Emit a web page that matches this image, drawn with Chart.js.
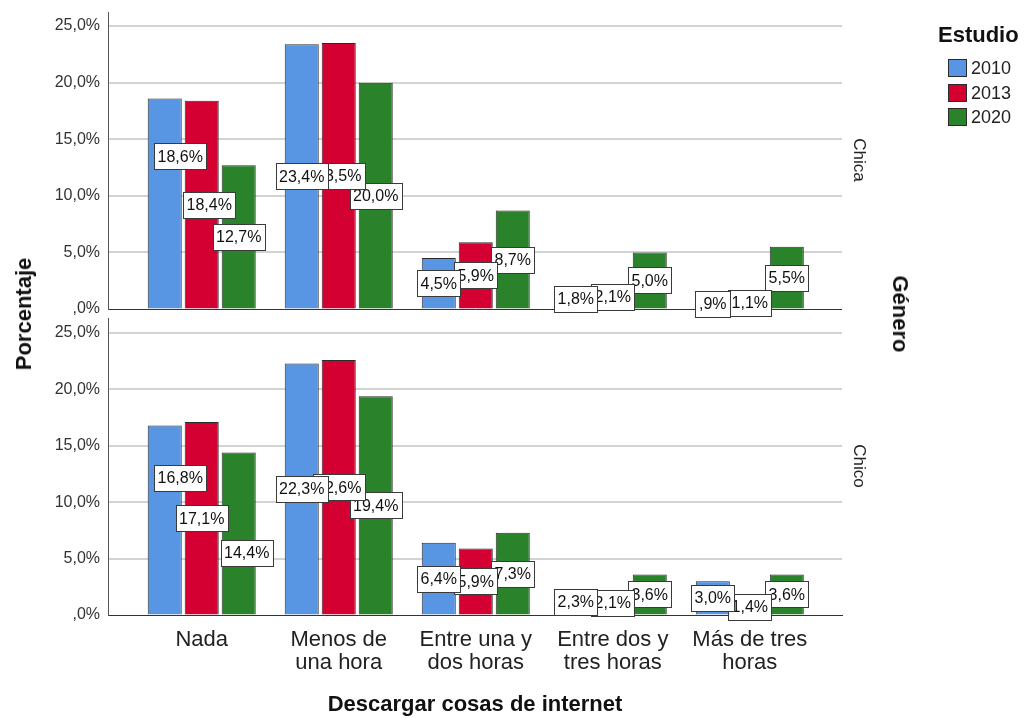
<!DOCTYPE html>
<html lang="es">
<head>
<meta charset="utf-8">
<title>Descargar cosas de internet</title>
<script src="https://cdn.jsdelivr.net/npm/chart.js@4.4.1/dist/chart.umd.min.js"></script>
<style>
  html, body { margin: 0; padding: 0; background: #fff; overflow: hidden; }
  #wrap { position: relative; width: 1027px; height: 718px; font-family: 'Liberation Sans', Arial, sans-serif; }
  canvas { position: absolute; left: 0; }
  .txt { position: absolute; white-space: nowrap; line-height: 1; color: #222; }
  .bold { font-weight: bold; color: #111; }
  .swatch { position: absolute; width: 17px; height: 16px; border: 1px solid #2b2b2b; }
</style>
</head>
<body>
<div id="wrap">
  <canvas id="chica" width="1027" height="318" style="top:0"></canvas>
  <canvas id="chico" width="1027" height="400" style="top:318px"></canvas>
</div>
<script>
// categories on the x axis ("\n" marks the line break under the bars)
const categories = ['Nada', 'Menos de\nuna hora', 'Entre una y\ndos horas', 'Entre dos y\ntres horas', 'Más de tres\nhoras'];
const years = ['2010', '2013', '2020'];
const panels = ['Chica', 'Chico'];

// percentages per study year, one array per gender panel
const chica2010 = [18.6, 23.4, 4.5, 1.8, 0.9];
const chica2013 = [18.4, 23.5, 5.9, 2.1, 1.1];
const chica2020 = [12.7, 20.0, 8.7, 5.0, 5.5];
const chico2010 = [16.8, 22.3, 6.4, 2.3, 3.0];
const chico2013 = [17.1, 22.6, 5.9, 2.1, 1.4];
const chico2020 = [14.4, 19.4, 7.3, 3.6, 3.6];

const yTicks = [0, 5, 10, 15, 20, 25];

const FONT = "'Liberation Sans', Arial, sans-serif";
const colors = ['#5895e3', '#d50032', '#2a822a'];

// label boxes that get pushed aside so they don't sit on each other (dataset-index keys, px)
const chicaNudges = { '0-0': [15.5, -47], '1-0': [7.5, 0] };
const chicoNudges = { '0-0': [15.5, -42], '2-0': [8, 19] };

// 18.6 -> "18,6%", 0.9 -> ",9%"
const pct = v => v.toFixed(1).replace('.', ',').replace(/^0/, '') + '%';

function buildDatasets(series) {
  return series.map((vals, i) => ({
    label: years[i],
    data: vals.map((v, k) => ({ x: k, y: v })),
    backgroundColor: colors[i],
    borderColor: '#2b2b2b',
    borderWidth: 1,
    categoryPercentage: 0.81,
    barPercentage: 0.92
  }));
}

function valueLabels(nudges) {
  return {
    id: 'valueLabels',
    afterDatasetsDraw(chart) {
      const ctx = chart.ctx;
      ctx.save();
      ctx.font = '16px ' + FONT;
      ctx.textAlign = 'center';
      ctx.textBaseline = 'middle';
      // green first, blue last, so earlier years sit on top
      for (let d = chart.data.datasets.length - 1; d >= 0; d--) {
        const meta = chart.getDatasetMeta(d);
        meta.data.forEach((bar, k) => {
          const text = pct(chart.data.datasets[d].data[k].y);
          const n = nudges[d + '-' + k] || [0, 0];
          const cx = bar.x + n[0];
          const cy = (bar.y + bar.base) / 2 + n[1];
          const w = Math.round(ctx.measureText(text).width + 7);
          const h = 26;
          const x0 = Math.round(cx - w / 2) + 0.5;
          const y0 = Math.round(cy - h / 2) + 0.5;
          ctx.fillStyle = '#fff';
          ctx.fillRect(x0, y0, w, h);
          ctx.strokeStyle = '#3a3a3a';
          ctx.lineWidth = 1;
          ctx.strokeRect(x0, y0, w, h);
          ctx.fillStyle = '#111';
          ctx.fillText(text, cx, cy + 1);
        });
      }
      ctx.restore();
    }
  };
}

function yScale(max) {
  return {
    min: 0,
    max: max,
    stacked: false,
    afterBuildTicks: s => { s.ticks = yTicks.map(v => ({ value: v })); },
    afterFit: s => { s.width = 108; s.paddingTop = 0; s.paddingBottom = 0; },
    grid: {
      color: c => (c.tick && c.tick.value === 0 ? '#333' : '#d3d3d3'),
      lineWidth: c => (c.tick && c.tick.value === 0 ? 1 : 2),
      drawTicks: false
    },
    border: { color: '#555', width: 1 },
    ticks: { padding: 8, color: '#333', font: { size: 16, family: FONT }, callback: v => pct(v) }
  };
}

function xScale(show) {
  return {
    type: 'linear',
    offset: false,
    min: -0.684,
    max: 4.673,
    display: show,
    afterBuildTicks: s => { s.ticks = categories.map((c, i) => ({ value: i })); },
    afterFit: s => { if (show) s.height = 103; s.paddingLeft = 0; s.paddingRight = 0; },
    grid: { display: false, offset: false },
    border: { display: show, color: '#333', width: 1 },
    ticks: {
      autoSkip: false,
      maxRotation: 0,
      padding: 5,
      color: '#222',
      font: { size: 22, family: FONT, lineHeight: 1.05 },
      callback: v => categories[v].split('\n')
    },
    title: {
      display: show,
      text: 'Descargar cosas de internet',
      color: '#111',
      font: { size: 22, weight: 'bold', family: FONT },
      padding: 0
    }
  };
}

function makePanel(id, series, yMax, showX, padding, nudges) {
  return new Chart(document.getElementById(id), {
    type: 'bar',
    data: { datasets: buildDatasets(series) },
    options: {
      responsive: false,
      animation: false,
      layout: { padding: padding },
      plugins: { legend: { display: false }, tooltip: { enabled: false } },
      scales: { x: xScale(showX), y: yScale(yMax) }
    },
    plugins: [valueLabels(nudges)]
  });
}

makePanel('chica', [chica2010, chica2013, chica2020], 26.24, false, { top: 12, bottom: 9, left: 0, right: 185 }, chicaNudges);
makePanel('chico', [chico2010, chico2013, chico2020], 26.33, true, { top: 0, bottom: 0, left: 0, right: 185 }, chicoNudges);

// titles, panel names and legend
const wrap = document.getElementById('wrap');
function place(text, x, y, size, opts) {
  const el = document.createElement('div');
  el.className = 'txt' + (opts.bold ? ' bold' : '');
  el.textContent = text;
  el.style.fontSize = size + 'px';
  el.style.left = x + 'px';
  el.style.top = y + 'px';
  const shift = opts.left ? 'translate(0,-50%)' : 'translate(-50%,-50%)';
  el.style.transform = shift + (opts.rot ? ' rotate(' + opts.rot + 'deg)' : '');
  wrap.appendChild(el);
  return el;
}

place('Porcentaje', 24, 314, 22, { bold: true, rot: -90 });
place('Género', 900, 314, 22, { bold: true, rot: 90 });
place(panels[0], 859, 160, 17, { rot: 90 });
place(panels[1], 859, 466, 17, { rot: 90 });

place('Estudio', 938, 35, 22, { bold: true, left: true });
years.forEach((yr, i) => {
  const cy = 68 + i * 24.5;
  const sw = document.createElement('div');
  sw.className = 'swatch';
  sw.style.left = '948px';
  sw.style.top = Math.round(cy - 9) + 'px';
  sw.style.background = colors[i];
  wrap.appendChild(sw);
  place(yr, 971, cy, 18, { left: true });
});
</script>
</body>
</html>
